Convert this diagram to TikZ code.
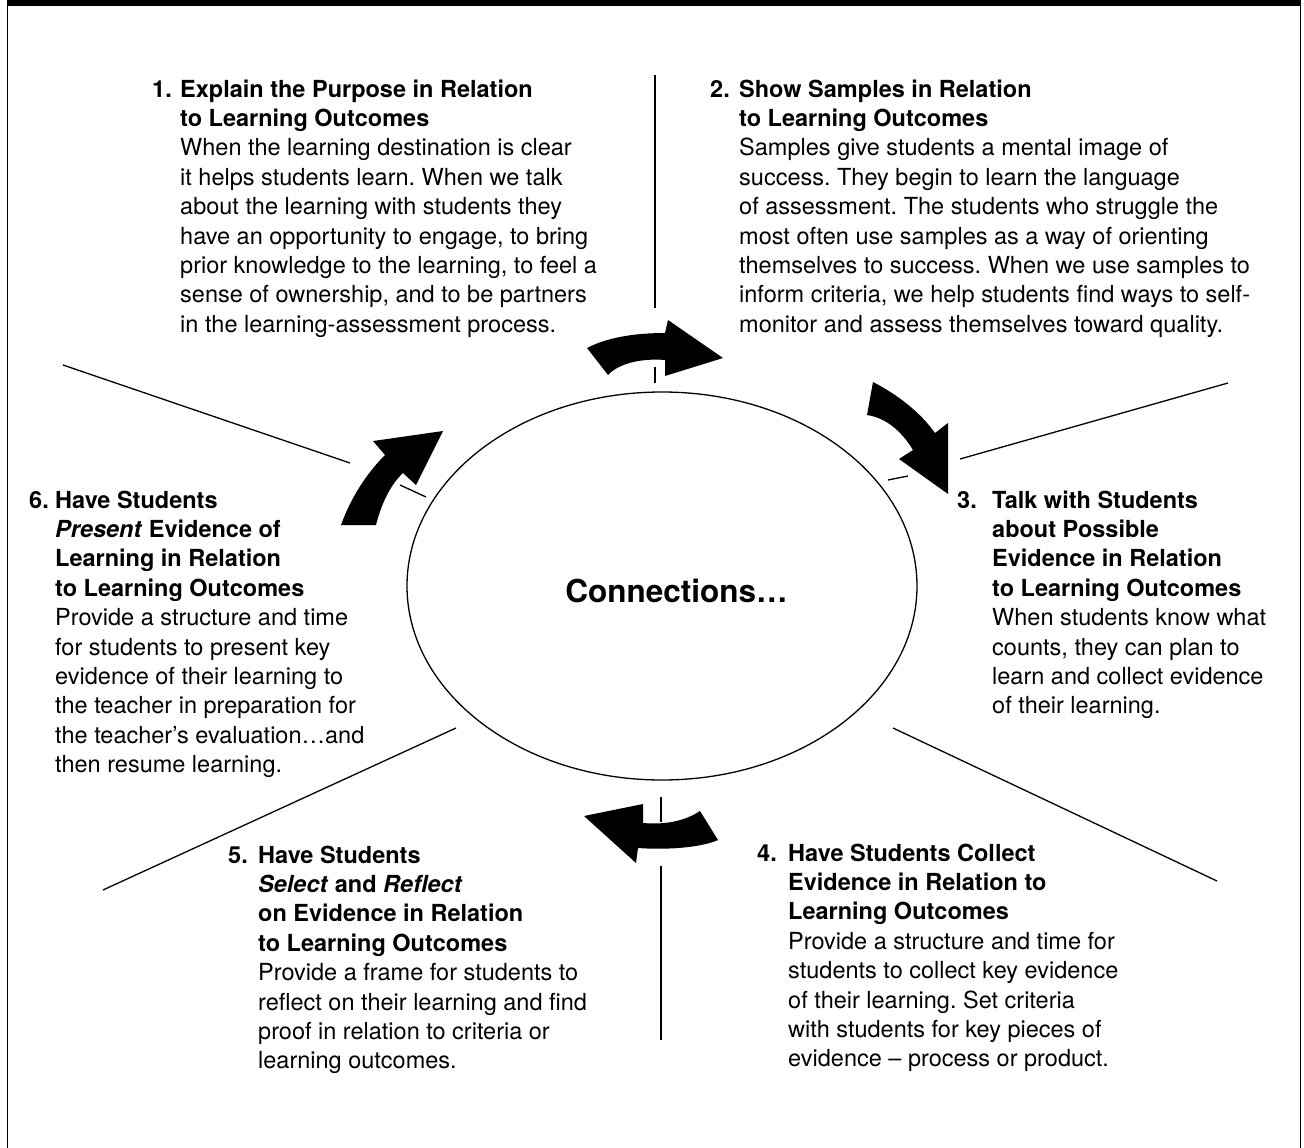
\documentclass[tikz,border=0pt]{standalone}
\usepackage{fontspec}
\setmainfont{TeX Gyre Heros}
\usetikzlibrary{shapes.geometric}
\newcommand{\numbx}[2]{\makebox[#1pt][l]{\textbf{#2}}}
\frenchspacing
\begin{document}
\begin{tikzpicture}[x=1pt,y=-1pt,
  blk/.style={anchor=base west, inner sep=0pt, font=\fontsize{23.5}{29.4}\selectfont},
  spoke/.style={line width=1.3pt},
  blockarrow/.style={fill=black, draw=none}]
\useasboundingbox (0,0) rectangle (1304,1148);
% frame
\fill (7,0) rectangle (1301,5.7);
\draw[line width=1.4pt] (7.5,3) -- (7.5,1148);
\draw[line width=1.4pt] (1300.5,3) -- (1300.5,1148);
% hub
\node[draw, ellipse, line width=1.3pt, minimum width=510pt, minimum height=388pt, inner sep=0pt] (hub) at (662,586) {};
\node[anchor=base, inner sep=0pt, font=\fontsize{31.5}{36}\selectfont\bfseries] (title) at (676.5,602) {Connections…};
% spokes
\draw[spoke] (655,75) -- (655,308);
\draw[spoke] (655,367) -- (655,383);
\draw[spoke] (63,365) -- (350,463);
\draw[spoke] (400,485) -- (426,497);
\draw[spoke] (1228,383) -- (960,459);
\draw[spoke] (888,480) -- (908,476);
\draw[spoke] (456,728) -- (103,890);
\draw[spoke] (893,728) -- (1217,881);
\draw[spoke] (661,797) -- (661,822);
\draw[spoke] (661,866) -- (661,1040);
% block arrows
\fill[blockarrow] (587,348) .. controls (610,336) and (640,333) .. (665,333) -- (668,320) -- (723,358) -- (665,376) -- (665,360) .. controls (640,358) and (618,364) .. (608,375) -- cycle;
\fill[blockarrow] (873,382) .. controls (898,395) and (920,412) .. (935,433) -- (948,423) -- (948,494) -- (899,459) -- (913,450) .. controls (902,432) and (887,418) .. (867,415) -- cycle;
\fill[blockarrow] (700,811) .. controls (685,821) and (665,825) .. (643,823) -- (643,804) -- (584,816) -- (636,863) -- (638,848) .. controls (665,850) and (700,848) .. (718,840) -- cycle;
\fill[blockarrow] (385,455) .. controls (365,475) and (350,500) .. (341,525) -- (376,525) .. controls (381,505) and (390,485) .. (403,473) -- (416,485) -- (443,431) -- (373,441) -- cycle;
% text blocks
\node[blk] (b1) at (152,97) {\begin{tabular}[t]{@{}l@{}l@{}}
\numbx{28}{1.} & \textbf{Explain the Purpose in Relation}\\
 & \textbf{to Learning Outcomes}\\
 & When the learning destination is clear\\
 & it helps students learn. When we talk\\
 & about the learning with students they\\
 & have an opportunity to engage, to bring\\
 & prior knowledge to the learning, to feel a\\
 & sense of ownership, and to be partners\\
 & in the learning-assessment process.
\end{tabular}};
\node[blk] (b2) at (710,97) {\begin{tabular}[t]{@{}l@{}l@{}}
\numbx{29}{2.} & \textbf{Show Samples in Relation}\\
 & \textbf{to Learning Outcomes}\\
 & Samples give students a mental image of\\
 & success. They begin to learn the language\\
 & of assessment. The students who struggle the\\
 & most often use samples as a way of orienting\\
 & themselves to success. When we use samples to\\
 & inform criteria, we help students find ways to self-\\
 & monitor and assess themselves toward quality.
\end{tabular}};
\node[blk] (b3) at (957,508) {\begin{tabular}[t]{@{}l@{}l@{}}
\numbx{35}{3.} & \textbf{Talk with Students}\\
 & \textbf{about Possible}\\
 & \textbf{Evidence in Relation}\\
 & \textbf{to Learning Outcomes}\\
 & When students know what\\
 & counts, they can plan to\\
 & learn and collect evidence\\
 & of their learning.
\end{tabular}};
\node[blk] (b4) at (757,861) {\begin{tabular}[t]{@{}l@{}l@{}}
\numbx{31}{4.} & \textbf{Have Students Collect}\\
 & \textbf{Evidence in Relation to}\\
 & \textbf{Learning Outcomes}\\
 & Provide a structure and time for\\
 & students to collect key evidence\\
 & of their learning. Set criteria\\
 & with students for key pieces of\\
 & evidence – process or product.
\end{tabular}};
\node[blk] (b5) at (228,863) {\begin{tabular}[t]{@{}l@{}l@{}}
\numbx{30}{5.} & \textbf{Have Students}\\
 & \textbf{\textit{Select} and \textit{Reflect}}\\
 & \textbf{on Evidence in Relation}\\
 & \textbf{to Learning Outcomes}\\
 & Provide a frame for students to\\
 & reflect on their learning and find\\
 & proof in relation to criteria or\\
 & learning outcomes.
\end{tabular}};
\node[blk] (b6) at (29,508) {\begin{tabular}[t]{@{}l@{}l@{}}
\numbx{26}{6.} & \textbf{Have Students}\\
 & \textbf{\textit{Present} Evidence of}\\
 & \textbf{Learning in Relation}\\
 & \textbf{to Learning Outcomes}\\
 & Provide a structure and time\\
 & for students to present key\\
 & evidence of their learning to\\
 & the teacher in preparation for\\
 & the teacher’s evaluation…and\\
 & then resume learning.
\end{tabular}};
\end{tikzpicture}
\end{document}
